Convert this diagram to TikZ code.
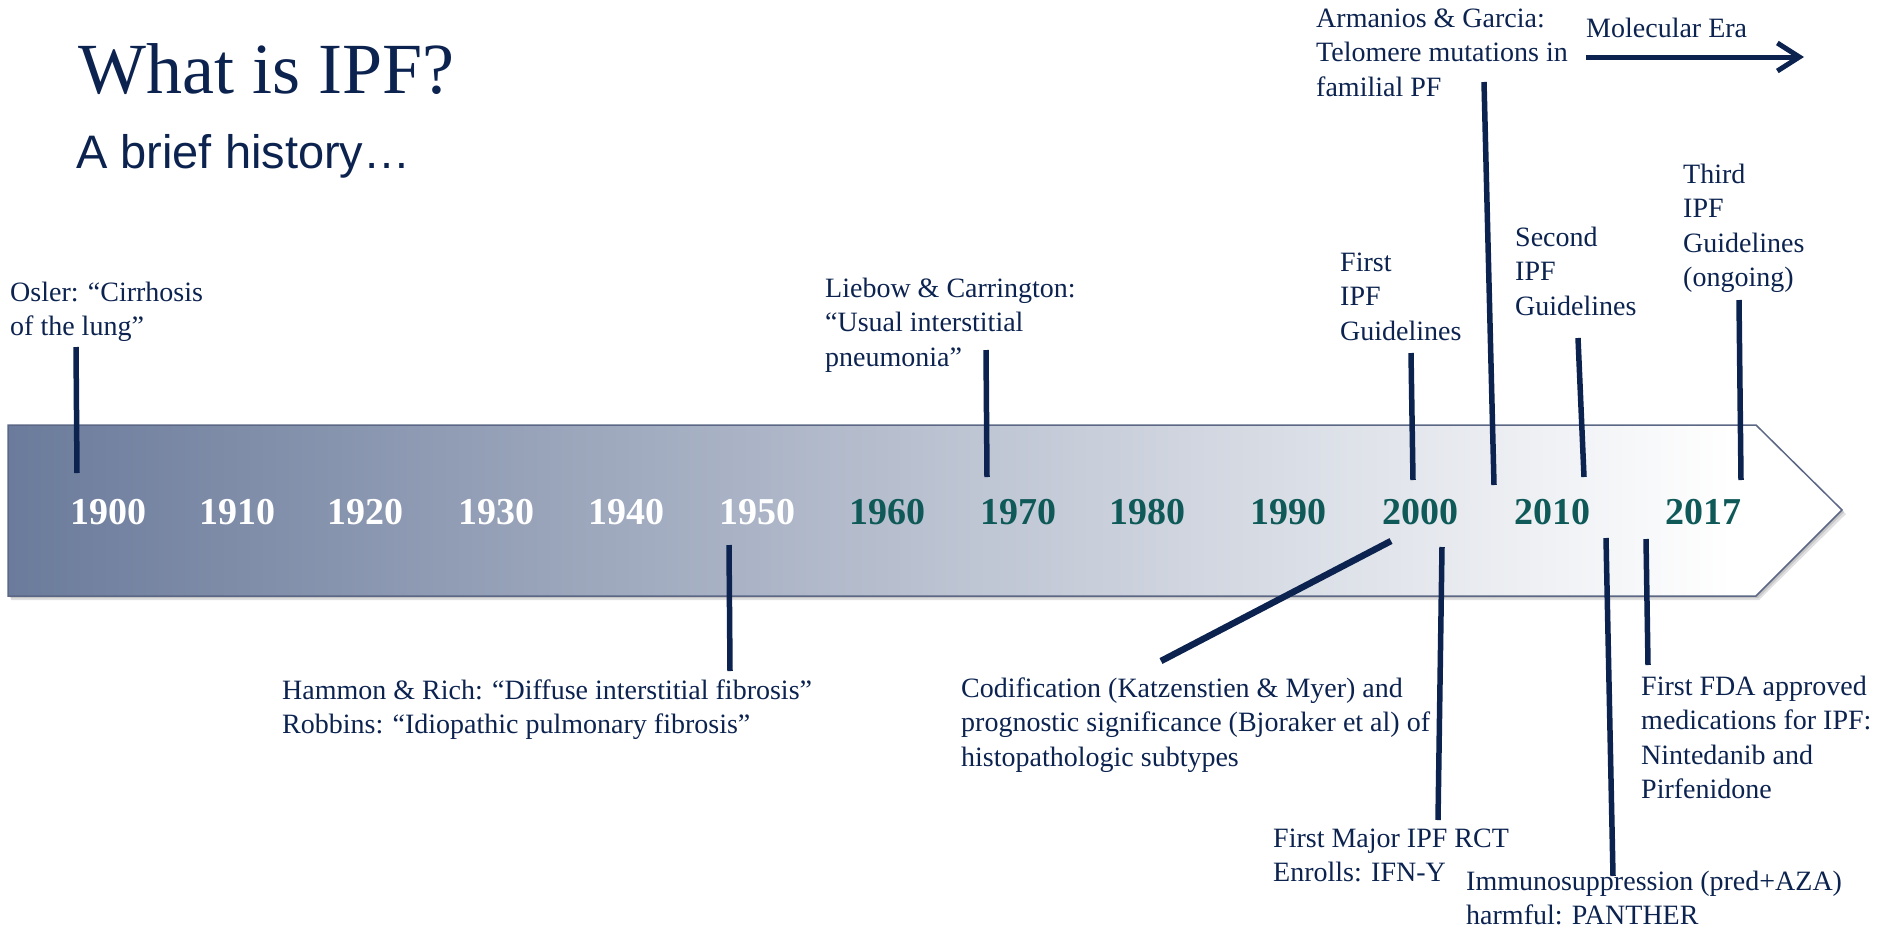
\documentclass[tikz,border=0pt]{standalone}
\usepackage{fontspec}
\setmainfont{Liberation Serif}
\newfontfamily\subtitlefont{Liberation Sans}
\usetikzlibrary{arrows.meta}
\definecolor{navy}{HTML}{0C2350}
\definecolor{yearteal}{HTML}{0F5A59}
\definecolor{slate}{HTML}{6B7B9B}
\definecolor{edgeblue}{HTML}{5B6785}
\pgfdeclarehorizontalshading{tlshade}{100bp}{color(0bp)=(slate); color(25bp)=(slate); color(72bp)=(white); color(100bp)=(white)}
\tikzset{
  lbl/.style={font=\fontsize{28}{34.5}\selectfont, text=navy, align=left, inner sep=0pt, anchor=north west},
  yr/.style={font=\bfseries\fontsize{38}{40}\selectfont, inner sep=0pt, anchor=center},
  lead/.style={draw=navy, line width=5.5pt, line cap=butt},
}
\begin{document}
\begin{tikzpicture}[x=1pt,y=-1pt]
\useasboundingbox (0,0) rectangle (1880,930);
% shadow
\fill[black, opacity=0.12] (11,429) -- (1759,429) -- (1846,514) -- (1759,600) -- (11,600) -- cycle;
\fill[black, opacity=0.12] (10,427) -- (1758,427) -- (1844,512) -- (1758,598) -- (10,598) -- cycle;
% timeline arrow
\shade[shading=tlshade, draw=edgeblue, line width=1.5pt] (8,425) -- (1756,425) -- (1842,510) -- (1756,596) -- (8,596) -- cycle;
% title
\node[anchor=base west, inner sep=0pt, text=navy, font=\fontsize{72}{80}\selectfont] (title) at (78,93) {What is IPF?};
\node[anchor=base west, inner sep=0pt, text=navy, font=\subtitlefont\fontsize{47}{52}\selectfont] (subtitle) at (76,168) {A brief history…};
% years
\node[yr, text=white] (y1900) at (108,512) {1900};
\node[yr, text=white] (y1910) at (237,512) {1910};
\node[yr, text=white] (y1920) at (365,512) {1920};
\node[yr, text=white] (y1930) at (496,512) {1930};
\node[yr, text=white] (y1940) at (626,512) {1940};
\node[yr, text=white] (y1950) at (757,512) {1950};
\node[yr, text=yearteal] (y1960) at (887,512) {1960};
\node[yr, text=yearteal] (y1970) at (1018,512) {1970};
\node[yr, text=yearteal] (y1980) at (1147,512) {1980};
\node[yr, text=yearteal] (y1990) at (1288,512) {1990};
\node[yr, text=yearteal] (y2000) at (1420,512) {2000};
\node[yr, text=yearteal] (y2010) at (1552,512) {2010};
\node[yr, text=yearteal] (y2017) at (1703,512) {2017};
% labels
\node[lbl] (osler) at (10,277) {\strut Osler: “Cirrhosis\\of the lung”};
\node[lbl] (liebow) at (825,273) {\strut Liebow \& Carrington:\\“Usual interstitial\\pneumonia”};
\node[lbl] (hammon) at (282,675) {\strut Hammon \& Rich: “Diffuse interstitial fibrosis”\\Robbins: “Idiopathic pulmonary fibrosis”};
\node[lbl] (first) at (1340,247) {\strut First\\IPF\\Guidelines};
\node[lbl] (second) at (1515,222) {\strut Second\\IPF\\Guidelines};
\node[lbl] (third) at (1683,159) {\strut Third\\IPF\\Guidelines\\(ongoing)};
\node[lbl] (armanios) at (1316,3) {\strut Armanios \& Garcia:\\Telomere mutations in\\familial PF};
\node[lbl] (molecular) at (1586,13) {\strut Molecular Era};
\node[lbl] (codif) at (961,673) {\strut Codification (Katzenstien \& Myer) and\\prognostic significance (Bjoraker et al) of\\histopathologic subtypes};
\node[lbl] (rct) at (1273,823) {\strut First Major IPF RCT\\Enrolls: IFN-Y};
\node[lbl] (immuno) at (1466,866) {\strut Immunosuppression (pred+AZA)\\harmful: PANTHER};
\node[lbl] (fda) at (1641,671) {\strut First FDA approved\\medications for IPF:\\Nintedanib and\\Pirfenidone};
% leader line end points
\coordinate (oslerA) at (76,347);   \coordinate (oslerB) at (77,473);
\coordinate (liebowA) at (986,350); \coordinate (liebowB) at (987,477);
\coordinate (firstA) at (1411,353); \coordinate (firstB) at (1413,480);
\coordinate (armA) at (1484,82);    \coordinate (armB) at (1494,485);
\coordinate (secA) at (1578,338);   \coordinate (secB) at (1584,477);
\coordinate (thirdA) at (1739,300); \coordinate (thirdB) at (1741,480);
\coordinate (hamA) at (729,545);    \coordinate (hamB) at (730,671);
\coordinate (codA) at (1391,541);   \coordinate (codB) at (1161,661);
\coordinate (rctA) at (1442,547);   \coordinate (rctB) at (1438,820);
\coordinate (panA) at (1606,538);   \coordinate (panB) at (1613,876);
\coordinate (fdaA) at (1646,539);   \coordinate (fdaB) at (1648,665);
\coordinate (molA) at (1586,57);    \coordinate (molB) at (1804,57);
\draw[lead] (oslerA) -- (oslerB);
\draw[lead] (liebowA) -- (liebowB);
\draw[lead] (firstA) -- (firstB);
\draw[lead] (armA) -- (armB);
\draw[lead] (secA) -- (secB);
\draw[lead] (thirdA) -- (thirdB);
\draw[lead] (hamA) -- (hamB);
\draw[lead, line width=6.5pt] (codA) -- (codB);
\draw[lead] (rctA) -- (rctB);
\draw[lead] (panA) -- (panB);
\draw[lead] (fdaA) -- (fdaB);
\draw[lead, line width=5pt, -{Straight Barb[length=22pt,width=28pt,line width=5pt]}] (molA) -- (molB);
\end{tikzpicture}
\end{document}
